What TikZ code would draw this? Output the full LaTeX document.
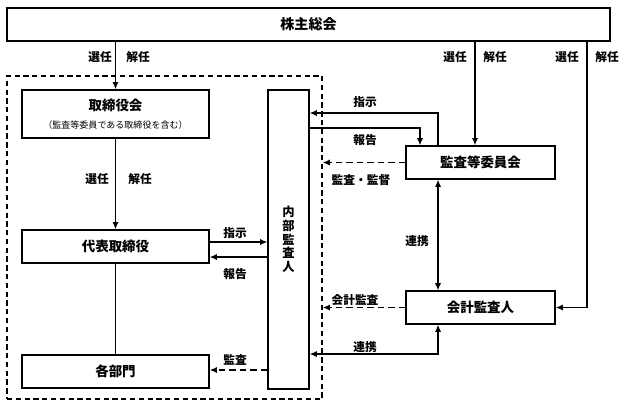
\documentclass[tikz,border=0pt]{standalone}
\usepackage{fontspec}
\setmainfont{Noto Sans CJK JP}
\usetikzlibrary{arrows.meta}

\tikzset{
	box/.style={draw, line width=1.1pt, inner sep=0pt, font=\bfseries\fontsize{11.5}{12}\selectfont},
	lbl/.style={font=\bfseries\fontsize{10}{11}\selectfont},
	>={Latex[length=2.2mm,width=1.9mm]},
	arr/.style={->, line width=1.1pt},
	darr/.style={->, line width=1.5pt, dash pattern=on 5.5pt off 3.5pt},
}

\begin{document}
\begin{tikzpicture}[x=0.03cm,y=-0.03cm]
			\useasboundingbox (0,0) rectangle (627,407);

			% SHAREHOLDERS MEETING
			\node[box, minimum width=18.09cm, minimum height=0.99cm, font=\bfseries\fontsize{12}{13}\selectfont] (soukai) at (308.5,24.5) {株主総会};

			% COMPANY FRAME
			\node[draw, dash pattern=on 4.5pt off 3pt, line width=1pt, inner sep=0pt, minimum width=9.45cm, minimum height=9.69cm] (group) at (164.5,237.5) {};

			% LEFT COLUMN
			\node[box, minimum width=5.61cm, minimum height=1.44cm, align=center] (board) at (115.5,114)
				{取締役会\\[3pt]{\mdseries\fontsize{7.7}{8}\selectfont （監査等委員である取締役を含む）}};
			\node[box, minimum width=5.61cm, minimum height=0.99cm] (daihyo) at (115.5,246.5) {代表取締役};
			\node[box, minimum width=5.61cm, minimum height=0.99cm] (kakubu) at (115.5,371.5) {各部門};
			\node[box, minimum width=1.23cm, minimum height=8.97cm, align=center, font=\bfseries\fontsize{10.5}{11.7}\selectfont] (naibu) at (288.5,239.5) {内\\部\\監\\査\\人};

			% RIGHT COLUMN
			\node[box, minimum width=4.47cm, minimum height=0.99cm] (kansa) at (480.5,162.5) {監査等委員会};
			\node[box, minimum width=4.47cm, minimum height=0.99cm] (kaikei) at (480.5,307.5) {会計監査人};

			% ELECTION
			\draw[arr, line width=1.5pt] (soukai.south -| board.north) -- (board.north);
			\draw[arr, line width=1.5pt] (soukai.south -| 475,0) -- (kansa.north -| 475,0);
			\draw[arr, line width=1.5pt] (soukai.south -| 587,0) |- (kaikei.east);
			\draw[arr, line width=1.5pt] (board.south) -- (daihyo.north);
			\draw[line width=1.1pt] (daihyo.south) -- (kakubu.north);
			\foreach \x/\n in {100/a, 455/b, 567/c} {
				\node[lbl] (sen\n) at (\x,57) {選任};
			}
			\foreach \x/\n in {138/a, 495/b, 607/c} {
				\node[lbl] (kai\n) at (\x,57) {解任};
			}
			\node[lbl] (send) at (97,179) {選任};
			\node[lbl] (kaid) at (140,179) {解任};

			% INTERNAL AUDIT
			\draw[arr] (daihyo.east |- 0,242) -- (naibu.west |- 0,242);
			\draw[arr] (naibu.west |- 0,257) -- (daihyo.east |- 0,257);
			\draw[darr] (naibu.west |- 0,370) -- (kakubu.east |- 0,370);
			\node[lbl] (shijia) at (235,233) {指示};
			\node[lbl] (hokokua) at (235,274) {報告};
			\node[lbl] (kansaa) at (235,360) {監査};

			% AUDIT COMMITTEE AND AUDITOR
			\draw[arr] (kansa.north -| 438,0) |- (naibu.east |- 0,113);
			\draw[arr] (naibu.east |- 0,128) -| (kansa.north -| 420,0);
			\draw[darr] (kansa.west) -- (kansa.west -| group.east);
			\draw[arr, <->] (kansa.south -| 438,0) -- (kaikei.north -| 438,0);
			\draw[darr] (kaikei.west) -- (kaikei.west -| group.east);
			\draw[arr, <->] (kaikei.south -| 438,0) |- (naibu.east |- 0,354);
			\node[lbl] (shijib) at (365,102) {指示};
			\node[lbl] (hokokub) at (365,140) {報告};
			\node[lbl] (kantoku) at (361,180) {監査・監督};
			\node[lbl] (renkeia) at (417,241) {連携};
			\node[lbl] (kaikeil) at (355,300) {会計監査};
			\node[lbl] (renkeib) at (365,347) {連携};
\end{tikzpicture}
\end{document}
